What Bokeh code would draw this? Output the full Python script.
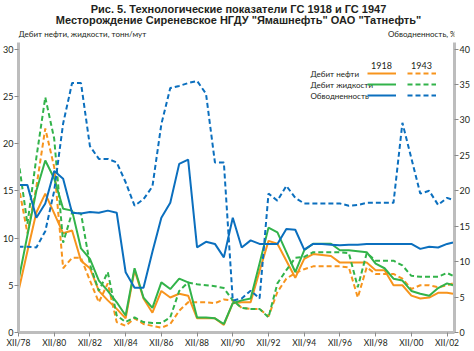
from bokeh.plotting import figure
from bokeh.models import Range1d, LinearAxis, FixedTicker, Label, Legend, LegendItem
from bokeh.embed import file_html
from bokeh.resources import INLINE

# months since XII/78
months = [0, 6, 12, 18, 24, 30, 36, 42, 48, 54,
          60, 66, 72, 78, 84, 90, 96, 102, 108, 114,
          120, 126, 132, 138, 144, 150, 156, 162, 168, 174,
          180, 186, 192, 198, 204, 210, 216, 222, 228, 234,
          240, 246, 252, 258, 264, 270, 276, 282, 288, 292]

x_tick_months = [0, 24, 48, 72, 96, 120, 144, 168, 192, 216, 240, 264, 288]
x_tick_labels = ["XII/78", "XII/80", "XII/82", "XII/84", "XII/86", "XII/88", "XII/90",
                 "XII/92", "XII/94", "XII/96", "XII/98", "XII/00", "XII/02"]
left_ticks = [0, 5, 10, 15, 20, 25, 30]
right_ticks = [0, 5, 10, 15, 20, 25, 30, 35, 40]

# Дебит нефти, т/сут — ГС 1918
oil_1918 = [4.4, 8.6, 12.7, 14.7, 12.6, 10.5, 10.8, 7.6, 6.8, 4.4,
            3.4, 2.5, 1.5, 6.6, 3.6, 2.1, 4.4, 3.7, 4.1, 3.9,
            1.5, 1.5, 1.5, 0.8, 3.1, 3.2, 3.2, 6.5, 9.7, 9.4,
            7.6, 5.8, 7.8, 8.3, 8.2, 8.1, 7.4, 7.4, 7.4, 7.4,
            6.6, 6.6, 5.0, 5.0, 3.9, 3.6, 3.7, 4.2, 4.2, 4.1]
# Дебит жидкости — ГС 1918
liq_1918 = [5.5, 10.3, 15.0, 18.2, 16.3, 13.1, 12.9, 8.9, 7.8, 5.5,
            4.4, 3.2, 1.8, 6.8, 3.7, 2.6, 5.3, 4.6, 5.7, 5.3,
            1.6, 1.6, 1.5, 0.9, 3.1, 3.4, 3.6, 7.3, 11.1, 10.6,
            8.5, 6.4, 8.7, 9.4, 9.4, 9.4, 8.7, 8.7, 8.6, 8.5,
            7.3, 6.8, 5.7, 5.5, 4.4, 4.1, 3.9, 4.7, 5.2, 5.0]
# Обводненность, % — ГС 1918
wc_1918 = [20.8, 20.8, 16.2, 18.2, 22.8, 21.7, 16.9, 16.8, 17.0, 16.9,
           17.2, 16.9, 8.5, 6.3, 6.3, 11.4, 16.2, 18.3, 23.8, 24.4,
           12.0, 12.8, 12.5, 10.6, 16.2, 12.0, 13.0, 12.5, 12.5, 12.5,
           14.6, 14.5, 11.7, 12.5, 12.5, 12.4, 12.3, 12.4, 12.4, 12.5,
           12.5, 12.5, 12.5, 12.5, 12.5, 11.8, 12.1, 12.0, 12.5, 12.7]
# Дебит нефти — 1943
oil_1943 = [15.6, 10.5, 15.4, 21.6, 17.5, 6.8, 7.9, 7.9, 5.5, 3.2,
            5.2, 1.1, 0.7, 1.5, 0.9, 0.7, 0.5, 0.9, 2.3, 3.2,
            3.2, 3.2, 3.1, 3.5, 3.4, 2.6, 2.5, 2.5, 1.7, 4.3,
            5.7, 6.3, 6.7, 7.0, 7.0, 7.0, 7.0, 6.9, 3.7, 6.9,
            6.2, 6.2, 6.2, 5.7, 4.6, 5.0, 5.0, 4.8, 5.0, 5.2]
# Дебит жидкости — 1943
liq_1943 = [18.2, 11.5, 18.5, 24.9, 20.5, 9.5, 12.7, 12.6, 7.2, 4.4,
            6.4, 1.8, 1.1, 1.6, 1.1, 1.0, 1.0, 1.6, 4.4, 5.3,
            5.1, 5.0, 4.9, 4.7, 3.4, 2.6, 2.5, 2.5, 1.6, 5.2,
            6.6, 7.9, 8.0, 8.5, 8.5, 8.5, 8.5, 8.4, 4.8, 8.4,
            7.6, 7.6, 7.6, 7.1, 6.0, 5.9, 5.9, 5.9, 6.3, 6.0]
# Обводненность — 1943
wc_1943 = [12.1, 12.1, 12.0, 14.3, 20.0, 29.5, 35.2, 35.2, 26.3, 24.5,
           24.5, 24.0, 21.2, 17.9, 18.8, 20.6, 29.4, 34.5, 34.8, 35.2,
           35.5, 33.7, 24.0, 24.0, 4.5, 4.8, 5.9, 4.8, 19.6, 18.6,
           20.7, 19.0, 18.2, 18.2, 18.2, 18.2, 18.2, 17.9, 18.0, 18.3,
           18.3, 18.3, 18.3, 29.6, 24.6, 19.6, 20.0, 18.0, 19.0, 18.7]

ORANGE = "#F7941D"
GREEN = "#32B34A"
BLUE = "#0B6FBE"
TXT = "#231F20"
AXIS = "#BDBDBD"
FONT = "Lato"

LEFT_TOP = 35.14
p = figure(width=474, height=351, output_backend="svg", toolbar_location=None,
           x_range=Range1d(0, 293), y_range=Range1d(0, LEFT_TOP), title=None,
           min_border_left=17, min_border_right=20, min_border_top=0, min_border_bottom=19)
p.extra_y_ranges = {"wc": Range1d(0, LEFT_TOP * 4 / 3)}
p.xgrid.visible = False
p.ygrid.visible = False
p.outline_line_color = None
p.background_fill_color = "white"
p.border_fill_color = "white"


def style_axis(ax):
    ax.axis_line_color = AXIS
    ax.axis_line_width = 3
    ax.major_tick_line_color = "#8A8A8A"
    ax.major_tick_line_width = 1
    ax.major_tick_out = 4
    ax.major_tick_in = 0
    ax.minor_tick_line_color = None
    ax.major_label_text_font = FONT
    ax.major_label_text_font_size = "9px"
    ax.major_label_text_color = TXT
    ax.major_label_standoff = 1


xa = p.xaxis[0]
xa.ticker = FixedTicker(ticks=x_tick_months)
xa.major_label_overrides = {m: s for m, s in zip(x_tick_months, x_tick_labels)}
style_axis(xa)
xa.major_label_text_font_size = "8.5px"

ya = p.yaxis[0]
ya.ticker = FixedTicker(ticks=left_ticks)
ya.bounds = (0, 30.7)
style_axis(ya)

ra = LinearAxis(y_range_name="wc", ticker=FixedTicker(ticks=right_ticks), bounds=(0, 30.7 * 4 / 3))
style_axis(ra)
p.add_layout(ra, "right")

r_oil18 = p.line(months, oil_1918, line_color=ORANGE, line_width=2)
r_oil43 = p.line(months, oil_1943, line_color=ORANGE, line_width=2, line_dash="5 3")
r_liq18 = p.line(months, liq_1918, line_color=GREEN, line_width=2)
r_liq43 = p.line(months, liq_1943, line_color=GREEN, line_width=2, line_dash="5 3")
r_wc18 = p.line(months, wc_1918, line_color=BLUE, line_width=2, y_range_name="wc")
r_wc43 = p.line(months, wc_1943, line_color=BLUE, line_width=2, line_dash="5 3", y_range_name="wc")


def make_legend(rends, loc):
    leg = Legend(items=[LegendItem(label=" ", renderers=[r]) for r in rends],
                 location=loc, orientation="vertical", glyph_width=29, glyph_height=10,
                 label_height=10, label_width=0, label_standoff=0, spacing=1,
                 padding=0, margin=0, border_line_color=None,
                 background_fill_alpha=0, label_text_font_size="1px")
    p.add_layout(leg)


make_legend([r_oil18, r_liq18, r_wc18], (349, 232))
make_legend([r_oil43, r_liq43, r_wc43], (389, 232))


def lab(x, y, text, size="8px", align="left", bold=False, font=FONT):
    p.add_layout(Label(x=x, y=y, x_units="screen", y_units="screen", text=text,
                       text_font=font, text_font_size=size, text_align=align,
                       text_baseline="middle", text_color=TXT,
                       text_font_style="bold" if bold else "normal"))


lab(220, 324, "Рис. 5. Технологические показатели ГС 1918 и ГС 1947", size="11px",
    align="center", bold=True, font="Liberation Sans")
lab(220, 313, 'Месторождение Сиреневское НГДУ "Ямашнефть" ОАО "Татнефть"', size="11px",
    align="center", bold=True, font="Liberation Sans")
lab(0, 299, "Дебит нефти, жидкости, тонн/мут")
lab(438, 299, "Обводненность, %", align="right")
lab(363, 267, "1918", size="9px", align="center")
lab(403, 267, "1943", size="9px", align="center")
lab(292, 259, "Дебит нефти")
lab(292, 248, "Дебит жидкости")
lab(292, 237, "Обводненность")

open("out.html", "w").write(file_html(p, INLINE))
